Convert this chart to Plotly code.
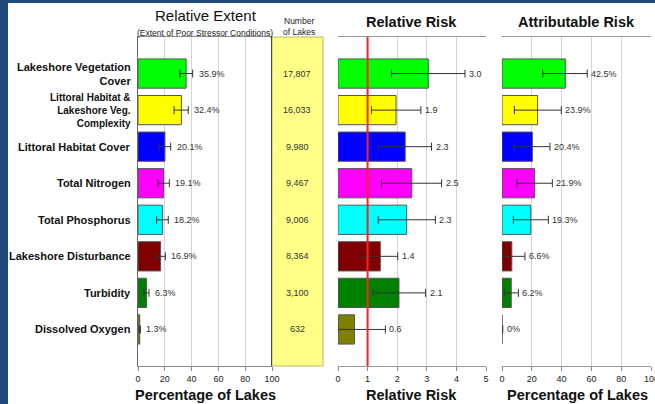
import plotly.graph_objects as go

W, H = 655, 404

categories = ["Lakeshore Vegetation Cover", "Littoral Habitat & Lakeshore Veg. Complexity",
              "Littoral Habitat Cover", "Total Nitrogen", "Total Phosphorus",
              "Lakeshore Disturbance", "Turbidity", "Dissolved Oxygen"]
category_labels = ["Lakeshore Vegetation<br>Cover", "Littoral Habitat &<br>Lakeshore Veg.<br>Complexity",
                   "Littoral Habitat Cover", "Total Nitrogen", "Total Phosphorus",
                   "Lakeshore Disturbance", "Turbidity", "Dissolved Oxygen"]
colors = ["#00ff00", "#ffff00", "#0000ff", "#ff00ff", "#00ffff", "#800000", "#008000", "#808000"]

extent = [35.9, 32.4, 20.1, 19.1, 18.2, 16.9, 6.3, 1.3]
extent_lo = [31.3, 26.9, 15.9, 14.9, 13.9, 13.4, 4.5, 0.8]
extent_hi = [40.8, 37.5, 24.4, 23.4, 22.6, 20.4, 8.2, 1.8]
extent_text = ["35.9%", "32.4%", "20.1%", "19.1%", "18.2%", "16.9%", "6.3%", "1.3%"]

num_lakes = ["17,807", "16,033", "9,980", "9,467", "9,006", "8,364", "3,100", "632"]

rr = [3.05, 1.96, 2.27, 2.49, 2.32, 1.43, 2.06, 0.56]
rr_lo = [1.81, 1.13, 1.37, 1.47, 1.36, 0.82, 1.19, 0.0]
rr_hi = [4.29, 2.80, 3.16, 3.50, 3.29, 2.02, 2.96, 1.60]
rr_text = ["3.0", "1.9", "2.3", "2.5", "2.3", "1.4", "2.1", "0.6"]

ar = [42.5, 23.9, 20.4, 21.9, 19.3, 6.6, 6.2, 0.0]
ar_lo = [27.3, 8.3, 8.3, 10.0, 7.6, 0.0, 1.5, 0.0]
ar_hi = [57.2, 39.8, 32.2, 33.8, 31.1, 15.4, 11.0, 0.5]
ar_text = ["42.5%", "23.9%", "20.4%", "21.9%", "19.3%", "6.6%", "6.2%", "0%"]

pct_ticks = [0, 20, 40, 60, 80, 100]
rr_ticks = [0, 1, 2, 3, 4, 5]

FONT = "Liberation Sans, Arial, sans-serif"


def px(x):
    return x / W


def py(y):
    return 1 - y / H


fig = go.Figure()


def add_panel(xa, ya, vals, lo, hi):
    fig.add_trace(go.Bar(
        y=categories, x=vals, orientation="h", xaxis=xa, yaxis=ya,
        marker=dict(color=colors, line=dict(color="#555555", width=1)),
        width=0.8,
        error_x=dict(type="data", symmetric=False,
                     array=[h - v for h, v in zip(hi, vals)],
                     arrayminus=[v - l for v, l in zip(vals, lo)],
                     color="#333333", thickness=1, width=4),
        showlegend=False, hoverinfo="skip"))


add_panel("x", "y", extent, extent_lo, extent_hi)
add_panel("x2", "y2", rr, rr_lo, rr_hi)
add_panel("x3", "y3", ar, ar_lo, ar_hi)

ydom = [py(366), py(37)]
yax = dict(type="category", categoryarray=categories, range=[8, -1], showticklabels=False,
           showgrid=False, ticks="", zeroline=False, fixedrange=True)
xcommon = dict(showgrid=True, gridcolor="#d4d4d4", gridwidth=1, zeroline=False,
               ticks="outside", ticklen=4, tickcolor="#888888",
               tickfont=dict(family=FONT, size=9, color="#222222"),
               showline=True, mirror=True, linewidth=1, fixedrange=True, automargin=False)

fig.update_layout(
    width=W, height=H, autosize=False,
    margin=dict(l=0, r=0, t=0, b=0, pad=0, autoexpand=False),
    paper_bgcolor="#1f4a7a", plot_bgcolor="white",
    font=dict(family=FONT, color="#222222"),
    bargap=0.2,
    xaxis=dict(domain=[px(138), px(272)], range=[0, 100], tickvals=pct_ticks,
               linecolor="#888888", **xcommon),
    yaxis=dict(domain=ydom, anchor="x", showline=True, linecolor="#666666", **yax),
    xaxis2=dict(domain=[px(338), px(486)], range=[0, 5], tickvals=rr_ticks, anchor="y2",
                linecolor="#999999", **xcommon),
    yaxis2=dict(domain=ydom, anchor="x2", showline=False, **yax),
    xaxis3=dict(domain=[px(502), px(651)], range=[0, 100], tickvals=pct_ticks, anchor="y3",
                linecolor="#999999", **xcommon),
    yaxis3=dict(domain=ydom, anchor="x3", showline=False, **yax),
)

shapes = [
    # white page over blue frame
    dict(type="rect", xref="paper", yref="paper", x0=px(8), x1=1.02, y0=-0.02, y1=py(3),
         fillcolor="white", line=dict(width=0), layer="below"),
    # number-of-lakes column
    dict(type="rect", xref="paper", yref="paper", x0=px(272), x1=px(323), y0=py(366), y1=py(37),
         fillcolor="#ffff88", line=dict(color="#b8b860", width=1), layer="below"),
    dict(type="line", xref="x", yref="y domain", x0=100, x1=100, y0=0, y1=1,
         line=dict(color="black", width=1.3)),
    # reference line at RR = 1
    dict(type="line", xref="x2", yref="y2 domain", x0=1, x1=1, y0=0, y1=1,
         line=dict(color="#ff2020", width=2)),
]
fig.update_layout(shapes=shapes)

ann = []
lab_font = dict(family=FONT, size=9, color="#333333")
for i, c in enumerate(categories):
    big = i != 1
    ann.append(dict(x=px(133), xref="paper", y=c, yref="y", text="<b>" + category_labels[i] + "</b>",
                    xanchor="right", yanchor="middle", align="right", showarrow=False,
                    font=dict(family=FONT, size=11 if big else 10, color="#111111")))
    ann.append(dict(x=extent_hi[i], xref="x", y=c, yref="y", text=extent_text[i], xanchor="left",
                    xshift=4, showarrow=False, font=lab_font))
    ann.append(dict(x=px(297), xref="paper", y=c, yref="y", text=num_lakes[i], xanchor="center",
                    showarrow=False, font=lab_font))
    ann.append(dict(x=rr_hi[i], xref="x2", y=c, yref="y2", text=rr_text[i], xanchor="left",
                    xshift=2, showarrow=False, font=lab_font))
    ann.append(dict(x=ar_hi[i], xref="x3", y=c, yref="y3", text=ar_text[i], xanchor="left",
                    xshift=2, showarrow=False, font=lab_font))

# last tick label of the right panel (partly beyond the page edge, as in the original)
ann.append(dict(x=pct_ticks[-1], xref="x3", y=py(379), yref="paper", text=str(pct_ticks[-1]),
                xanchor="center", yanchor="middle", showarrow=False,
                font=dict(family=FONT, size=9, color="#222222")))

titles = [
    ("Relative Extent", 206, 15, 15, False, "#111111"),
    ("(Extent of Poor Stressor Conditions)", 205, 33, 8.5, False, "#222222"),
    ("Number", 299, 21, 8.5, False, "#222222"),
    ("of Lakes", 299, 32, 8.5, False, "#222222"),
    ("Relative Risk", 411, 22, 14.5, True, "#111111"),
    ("Attributable Risk", 576, 22, 14.5, True, "#111111"),
    ("Percentage of Lakes", 205, 395, 14.5, True, "#111111"),
    ("Relative Risk", 411, 395, 14.5, True, "#111111"),
    ("Percentage of Lakes", 577, 395, 14.5, True, "#111111"),
]
for t, x, y, s, b, col in titles:
    ann.append(dict(x=px(x), y=py(y), xref="paper", yref="paper", text=("<b>%s</b>" % t) if b else t,
                    xanchor="center", yanchor="middle", showarrow=False,
                    font=dict(family=FONT, size=s, color=col)))

fig.update_layout(annotations=ann)

fig.write_html("out.html",
               config={"responsive": False, "displayModeBar": False, "staticPlot": True},
               post_script="document.body.style.margin='0px';document.body.style.overflow='hidden';")
